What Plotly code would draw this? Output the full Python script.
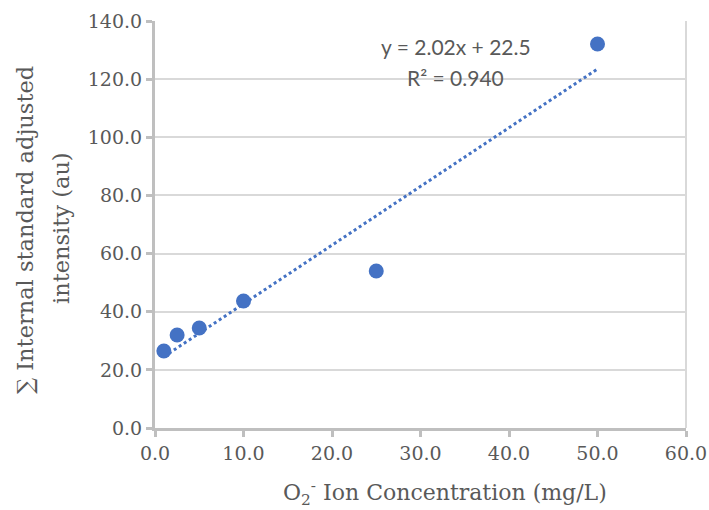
import plotly.graph_objects as go

conc = [1.0, 2.5, 5.0, 10.0, 25.0, 50.0]
intensity = [26.5, 32.0, 34.4, 43.7, 54.0, 132.1]
slope = 2.02
intercept = 22.5
r2 = 0.940
x_ticks = [0, 10, 20, 30, 40, 50, 60]
y_ticks = [0, 20, 40, 60, 80, 100, 120, 140]
x_title = "O<sub>2</sub><sup>-</sup> Ion Concentration (mg/L)"
y_title_lines = ["∑ Internal standard adjusted", "intensity (au)"]

blue = "#4472C4"
grey = "#595959"
serif = "DejaVu Serif"

W, H = 709, 510
L, R, T, B = 155, 23, 21, 82
pw, ph = W - L - R, H - T - B


def px_x(p):
    return (p - L) / pw


def px_y(p):
    return (H - B - p) / ph


trend_x = [min(conc), max(conc)]
trend_y = [slope * v + intercept for v in trend_x]

fig = go.Figure()
fig.add_trace(go.Scatter(x=trend_x, y=trend_y, mode="lines",
                         line=dict(color=blue, width=3, dash="dot"),
                         hoverinfo="skip", showlegend=False))
fig.add_trace(go.Scatter(x=conc, y=intensity, mode="markers",
                         marker=dict(color=blue, size=15),
                         showlegend=False))

ann_font = dict(family="Lato, Liberation Sans", size=21, color=grey)
fig.add_annotation(x=34.0, y=131.1, xref="x", yref="y",
                   text=f"y = {slope:.2f}x + {intercept:.1f}",
                   showarrow=False, font=ann_font)
fig.add_annotation(x=34.0, y=120.4, xref="x", yref="y",
                   text=f"R² = {r2:.3f}",
                   showarrow=False, font=ann_font)

# axis titles
fig.add_annotation(x=px_x(445), y=px_y(493), xref="paper", yref="paper",
                   text=x_title, showarrow=False, xanchor="center", yanchor="middle",
                   font=dict(family=serif, size=22, color=grey))
fig.add_annotation(x=px_x(25), y=px_y(230), xref="paper", yref="paper",
                   text=y_title_lines[0], showarrow=False, textangle=-90,
                   xanchor="center", yanchor="middle",
                   font=dict(family=serif, size=22.5, color=grey))
fig.add_annotation(x=px_x(61), y=px_y(228), xref="paper", yref="paper",
                   text=y_title_lines[1], showarrow=False, textangle=-90,
                   xanchor="center", yanchor="middle",
                   font=dict(family=serif, size=22.5, color=grey))

fig.add_shape(type="line", xref="paper", yref="paper", x0=1, x1=1, y0=0, y1=1,
              line=dict(color="#D9D9D9", width=2), layer="below")

fig.update_layout(
    width=W, height=H,
    margin=dict(l=L, r=R, t=T, b=B),
    paper_bgcolor="white", plot_bgcolor="white",
    font=dict(family=serif, color=grey, size=19),
    xaxis=dict(range=[0, 60], tickvals=x_ticks, automargin=False,
               ticktext=[f"{v:.1f}" for v in x_ticks],
               showgrid=False, zeroline=False,
               showline=True, linecolor="#BFBFBF", linewidth=3,
               ticks="outside", ticklen=6, tickwidth=3, tickcolor="#BFBFBF",
               tickfont=dict(family=serif, size=19, color=grey)),
    yaxis=dict(range=[0, 140], tickvals=y_ticks, automargin=False,
               ticktext=[f"{v:.1f}" for v in y_ticks],
               showgrid=True, gridcolor="#D9D9D9", gridwidth=2, zeroline=False,
               showline=True, linecolor="#BFBFBF", linewidth=3,
               ticks="outside", ticklen=6, tickwidth=3, tickcolor="#BFBFBF",
               tickfont=dict(family=serif, size=19, color=grey)),
)

fig.write_html("out.html", config={"displayModeBar": False},
               post_script="document.body.style.margin='0';")
